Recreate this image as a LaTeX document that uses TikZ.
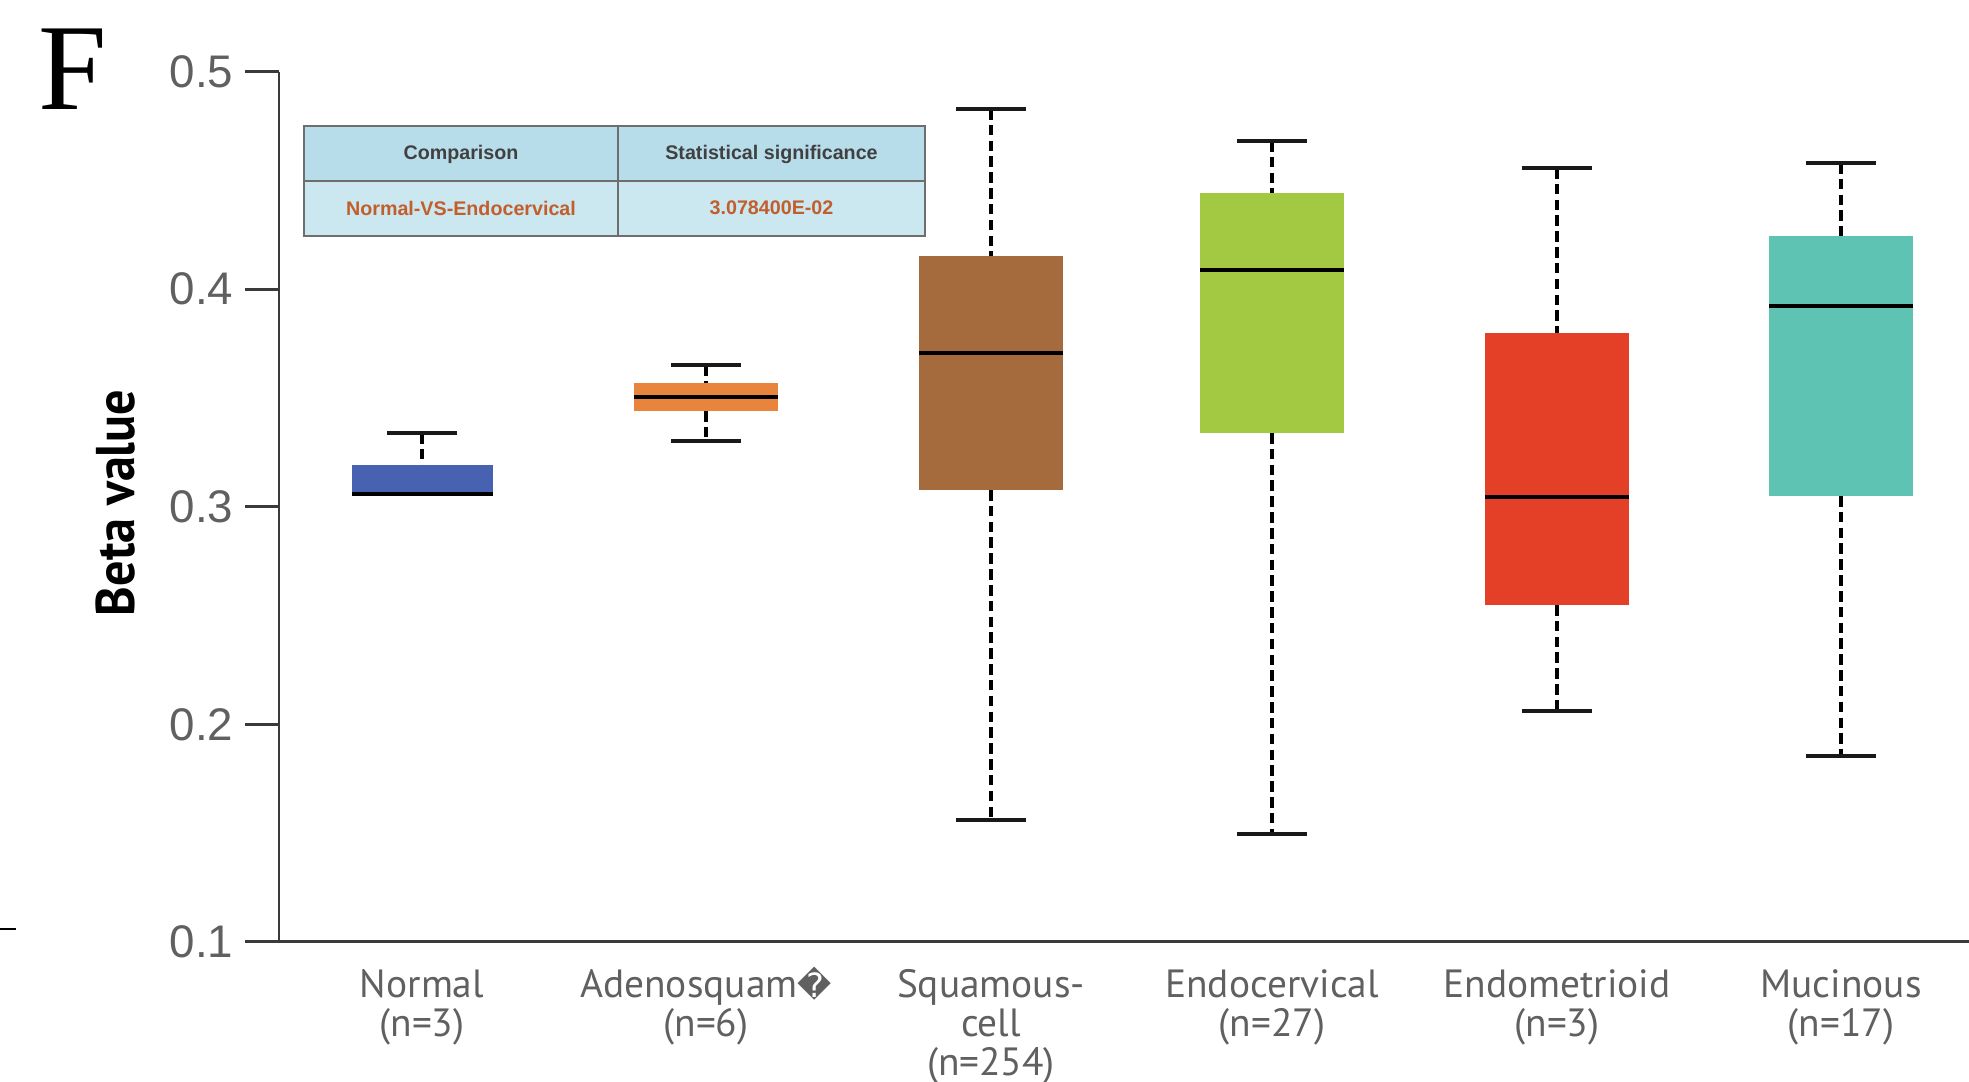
\documentclass[tikz,border=0pt]{standalone}
\usepackage{fontspec}
\setmainfont{Liberation Sans}
\newfontfamily\catfont{PT Sans}
\newfontfamily\panelfont{Liberation Serif}
\newfontfamily\glyphfont{DejaVu Sans}
\definecolor{axisgray}{HTML}{3A3A3A}
\definecolor{ticktext}{HTML}{606060}
\definecolor{cnormal}{HTML}{4862B2}
\definecolor{cadeno}{HTML}{E8843C}
\definecolor{csquam}{HTML}{A66B3D}
\definecolor{cendocx}{HTML}{A3C841}
\definecolor{cendomt}{HTML}{E43F27}
\definecolor{cmucin}{HTML}{5EC3B3}
\definecolor{thead}{HTML}{B7DDEA}
\definecolor{tbody}{HTML}{CBE7F0}
\definecolor{tline}{HTML}{6E6E6E}
\definecolor{tred}{HTML}{C25E2C}
\tikzset{
  axisline/.style={axisgray, line width=0.85pt},
  whisk/.style={black, line width=1.4pt, dash pattern=on 3pt off 1.5pt},
  medline/.style={black, line width=1.3pt},
  capline/.style={black!90, line width=1.4pt},
  ticklab/.style={ticktext, font=\fontsize{13}{15}\selectfont, anchor=east, inner sep=0pt},
  catlab/.style={ticktext, font=\catfont\fontsize{11.2}{11.0}\selectfont, align=center, anchor=north, inner sep=0pt},
  tabhead/.style={black!75, font=\bfseries\fontsize{5.6}{6}\selectfont, inner sep=0pt},
  tabcell/.style={tred, font=\bfseries\fontsize{5.6}{6}\selectfont, inner sep=0pt}
}
% one box with dashed whiskers: centre x, upper cap, q3, median, q1, lower cap, colour
\newcommand\boxwhisk[7]{%
  \draw[whisk] (#1,#2) -- (#1,#3);
  \draw[whisk] (#1,#5) -- (#1,#6);
  \fill[#7] ({#1-72},#3) rectangle ({#1+72},#5);
  \draw[medline] ({#1-72},#4) -- ({#1+72},#4);
  \draw[capline] ({#1-35},#2) -- ({#1+35},#2);
  \draw[capline] ({#1-35},#6) -- ({#1+35},#6);
}
\begin{document}
\begin{tikzpicture}[x=0.01cm, y=-0.01cm]
  \useasboundingbox[fill=white] (0,0) rectangle (1969,1082);

  % panel letter and stray mark
  \node[font=\panelfont\fontsize{35}{35}\selectfont, anchor=base west, inner sep=0pt] (panel) at (38,110) {F};
  \coordinate (markL) at (0,929);
  \coordinate (markR) at (16,929);
  \draw[black, line width=0.7pt] (markL) -- (markR);

  % axes
  \coordinate (origin) at (279,941.8);
  \coordinate (ytop) at (279,71.6);
  \coordinate (xend) at (1969,941.8);
  \draw[axisline] (ytop) -- (origin) -- (xend);
  \foreach \v/\yy in {5/71.6, 4/289.2, 3/506.7, 2/724.3, 1/941.8} {
    \draw[axisline] (245,\yy) -- (279,\yy);
    \node[ticklab] (tick\v) at (234,\yy) {0.\v};
  }
  \node[font=\catfont\bfseries\fontsize{15.5}{16}\selectfont, rotate=90, inner sep=0pt] (ylab) at (116,503) {\scalebox{0.92}[1]{Beta value}};

  % Normal (no lower whisker)
  \draw[whisk] (422,433) -- (422,465);
  \fill[cnormal] (352,465) rectangle (493,496);
  \draw[medline] (352,494) -- (493,494);
  \draw[capline] (387,433) -- (457,433);

  \boxwhisk{706}{365}{383}{397}{411}{441}{cadeno}
  \boxwhisk{991}{109}{256}{353}{490}{820}{csquam}
  \boxwhisk{1272}{141}{193}{270}{433}{834}{cendocx}
  \boxwhisk{1557}{168}{333}{497}{605}{711}{cendomt}
  \boxwhisk{1841}{163}{236}{306}{496}{756}{cmucin}

  % category labels
  \node[catlab] (lnormal) at (422,969) {Normal\\(n=3)};
  \node[catlab] (ladeno) at (706,969) {Adenosquam\smash{\glyphfont\fontsize{9.5}{11}\selectfont �}\\(n=6)};
  \node[catlab] (lsquam) at (991,969) {Squamous-\\cell\\(n=254)};
  \node[catlab] (lendocx) at (1272,969) {Endocervical\\(n=27)};
  \node[catlab] (lendomt) at (1557,969) {Endometrioid\\(n=3)};
  \node[catlab] (lmucin) at (1841,969) {Mucinous\\(n=17)};

  % comparison table
  \fill[thead] (304,126) rectangle (925,181);
  \fill[tbody] (304,181) rectangle (925,236);
  \draw[tline, line width=0.6pt] (304,126) rectangle (925,236);
  \draw[tline, line width=0.6pt] (304,181) -- (925,181);
  \draw[tline, line width=0.6pt] (618,126) -- (618,236);
  \node[tabhead] (hcomp) at (461,154) {Comparison};
  \node[tabhead] (hsig) at (771.5,154) {Statistical significance};
  \node[tabcell] (ccomp) at (461,208) {Normal-VS-Endocervical};
  \node[tabcell] (csig) at (771.5,208) {3.078400E-02};
\end{tikzpicture}
\end{document}
